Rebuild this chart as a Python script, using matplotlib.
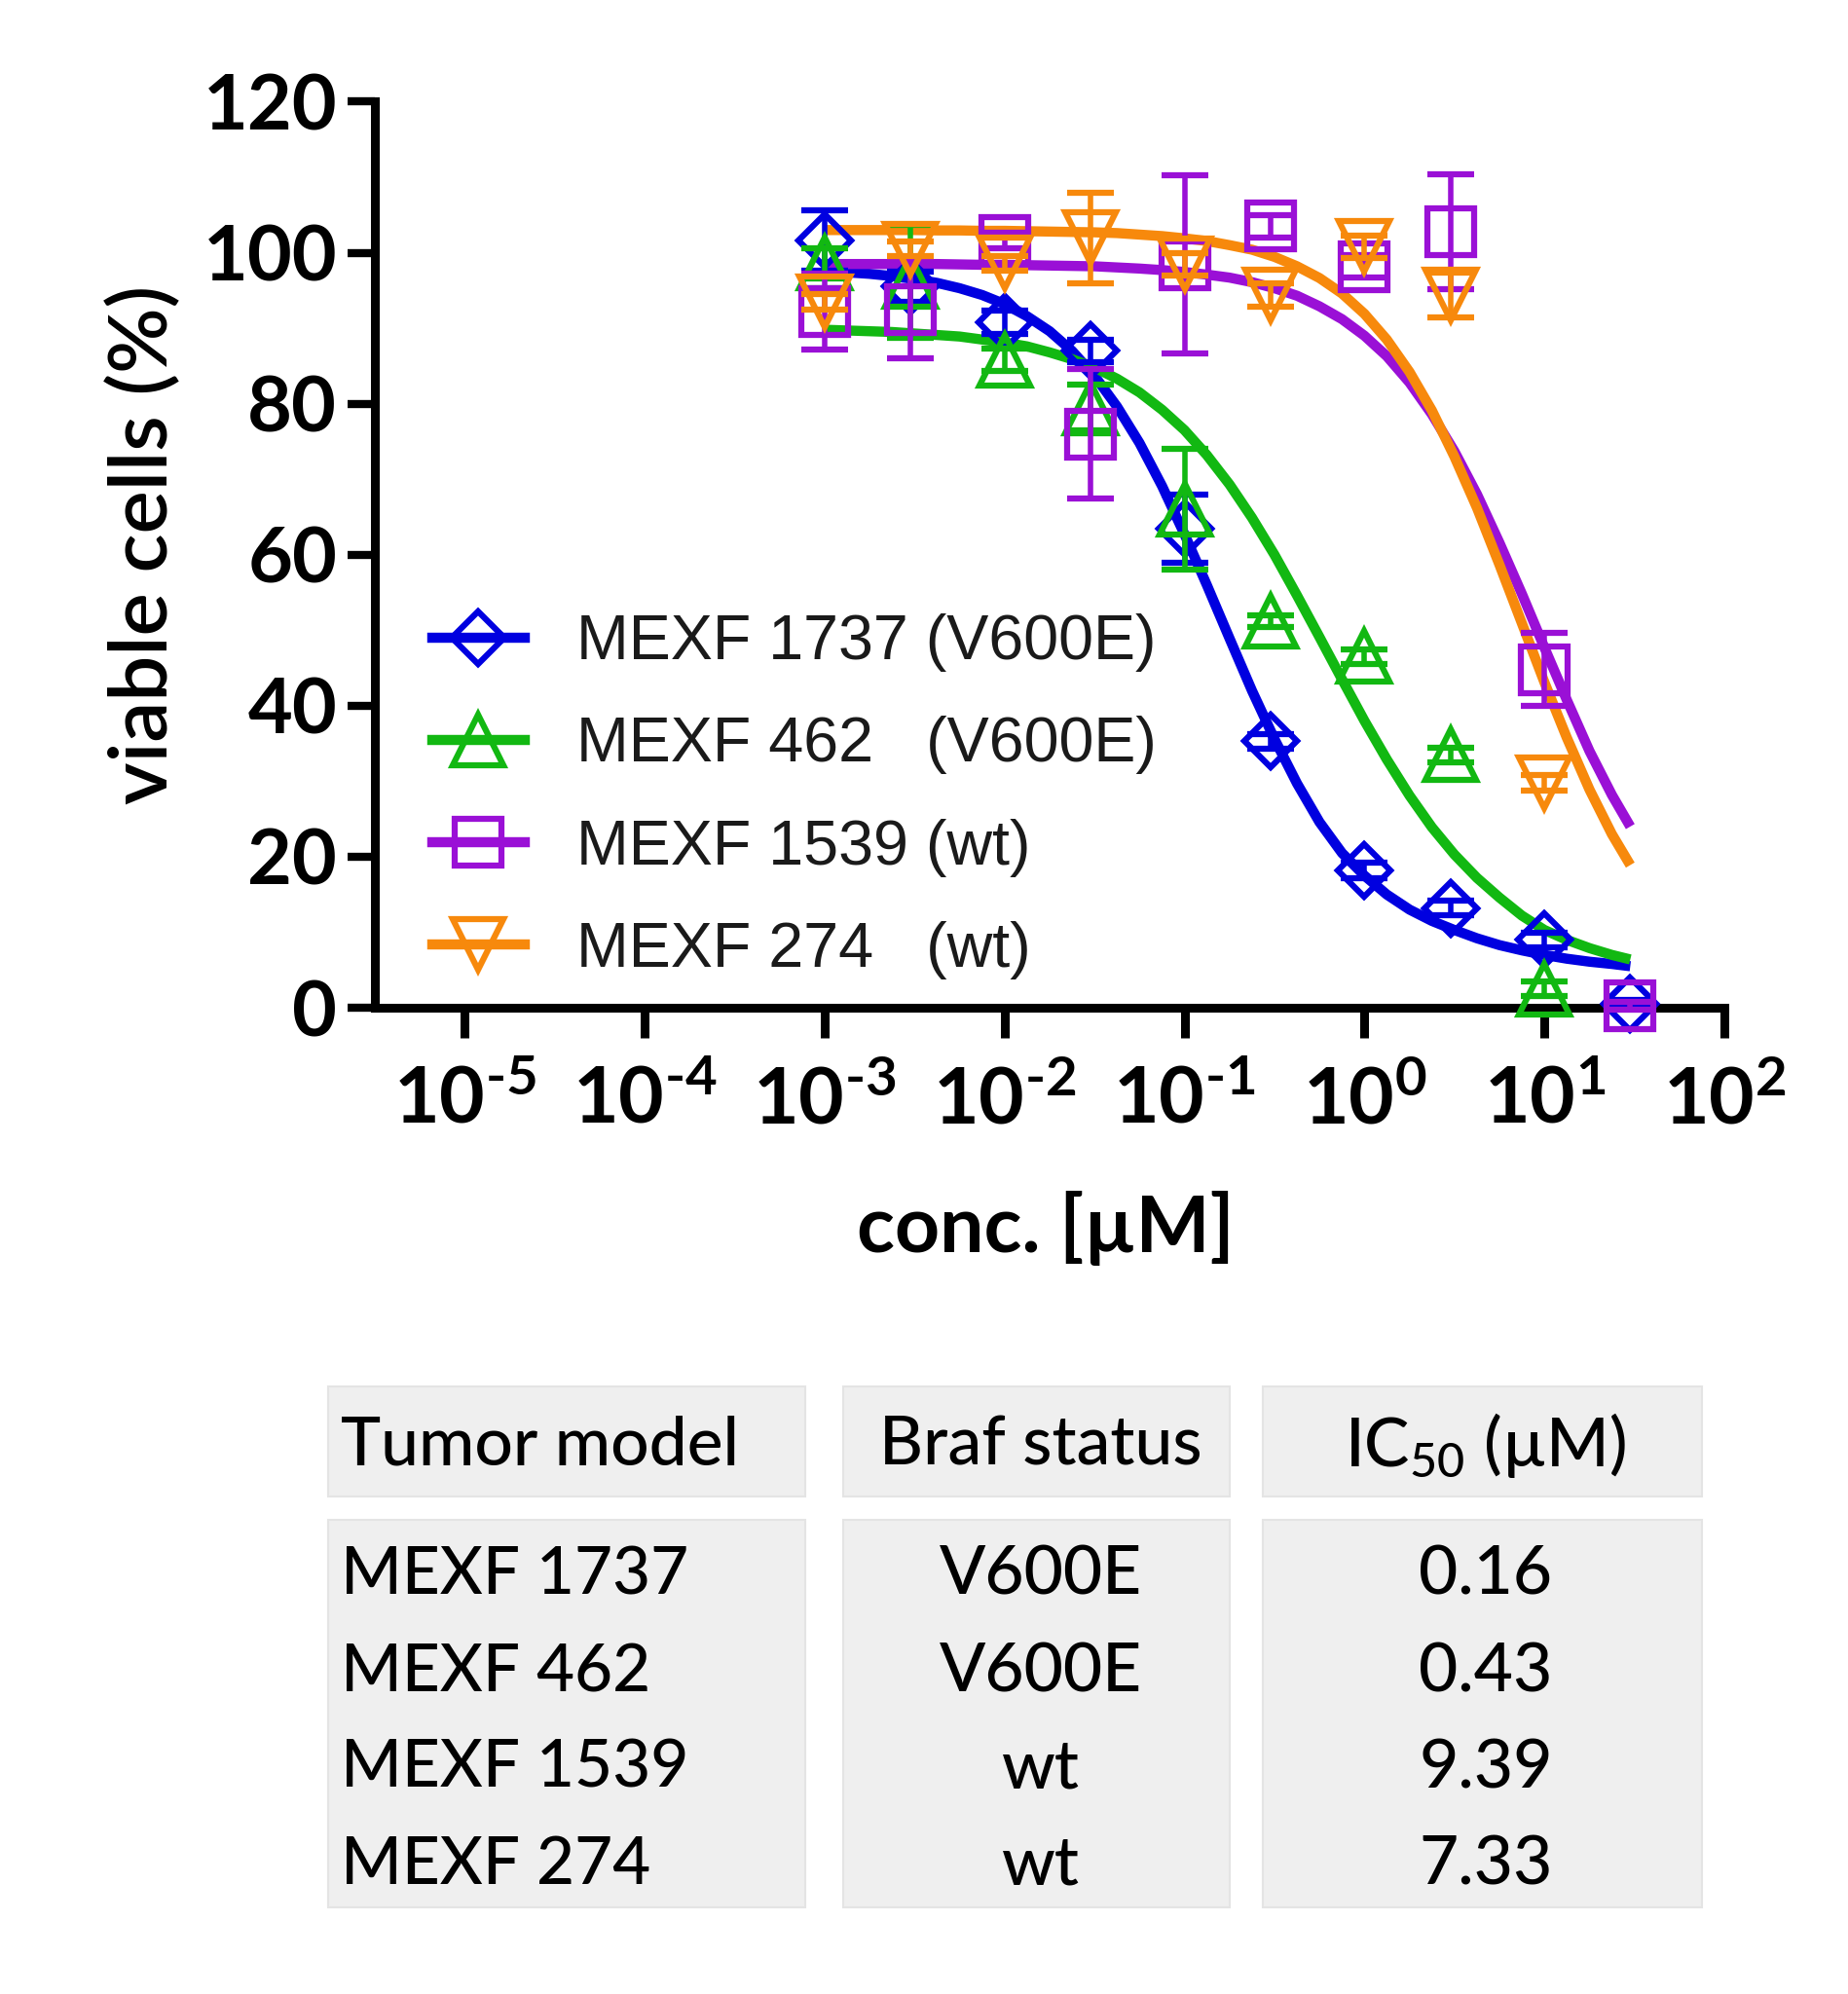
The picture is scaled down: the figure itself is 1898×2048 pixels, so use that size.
import numpy as np
import matplotlib
matplotlib.use('Agg')
import matplotlib.pyplot as plt
from matplotlib.lines import Line2D
from matplotlib.patches import Rectangle

# measured concentrations (uM)
conc = [0.001, 0.003, 0.01, 0.03, 0.1, 0.3, 1, 3, 10, 30]

# mean viability (%) and SD
mexf1737 = [101.6, 95.5, 90.8, 87.0, 63.5, 35.3, 18.2, 13.2, 9.0, 0.5]
mexf1737_sd = [4.0, 2.0, 1.5, 1.5, 4.5, 1.0, 1.0, 1.0, 1.0, 0.5]
mexf462 = [98.6, 96.2, 85.8, 79.5, 66.0, 51.2, 46.5, 33.5, 2.5, np.nan]
mexf462_sd = [2.0, 7.5, 1.5, 3.0, 8.0, 0.8, 1.0, 1.0, 1.0, np.nan]
mexf1539 = [92.2, 92.5, 101.6, 76.0, 98.4, 103.5, 98.2, 102.8, 44.8, 0.3]
mexf1539_sd = [5.0, 6.5, 1.0, 8.6, 11.8, 1.5, 1.5, 7.6, 4.8, 0.5]
mexf274 = [93.5, 100.5, 98.6, 102.0, 98.5, 94.4, 100.8, 94.4, 29.8, np.nan]
mexf274_sd = [1.0, 1.0, 1.0, 6.0, 1.5, 1.5, 1.5, 3.0, 1.0, np.nan]

# fitted curves
curve_x = [0.001, 0.00133, 0.00178, 0.00237, 0.00316, 0.00422, 0.00562, 0.0075,
           0.01, 0.0133, 0.0178, 0.0237, 0.0316, 0.0422, 0.0562, 0.075,
           0.1, 0.133, 0.178, 0.237, 0.316, 0.422, 0.562, 0.75,
           1, 1.33, 1.78, 2.37, 3.16, 4.22, 5.62, 7.5,
           10, 13.3, 17.8, 23.7, 30]
fit1737 = [97.6, 97.4, 97.2, 96.9, 96.5, 96.0, 95.3, 94.4,
           93.2, 91.6, 89.6, 87.0, 83.7, 79.6, 74.8, 69.1,
           62.7, 56.0, 48.9, 42.0, 35.6, 29.7, 24.6, 20.5,
           17.5, 15.0, 13.0, 11.5, 10.3, 9.2, 8.3, 7.6,
           7.0, 6.5, 6.1, 5.8, 5.5]
fit462 = [89.8, 89.7, 89.6, 89.5, 89.3, 89.1, 88.9, 88.5,
          88.1, 87.6, 86.8, 85.9, 84.8, 83.3, 81.5, 79.2,
          76.5, 73.2, 69.3, 64.9, 60.0, 54.6, 49.1, 43.5,
          38.0, 32.9, 28.1, 23.9, 20.3, 17.2, 14.6, 12.2,
          10.3, 9.0, 7.9, 7.0, 6.4]
fit1539 = [98.5, 98.5, 98.5, 98.5, 98.5, 98.5, 98.45, 98.4,
           98.4, 98.35, 98.3, 98.25, 98.2, 98.05, 97.9, 97.7,
           97.45, 97.1, 96.7, 96.1, 95.3, 94.3, 92.9, 91.2,
           89.0, 86.3, 82.8, 78.6, 73.7, 68.0, 61.6, 54.8,
           47.7, 40.8, 34.0, 28.2, 24.0]
fit274 = [103.0, 103.0, 103.0, 103.0, 103.0, 102.95, 102.95, 102.9,
          102.9, 102.85, 102.8, 102.75, 102.7, 102.6, 102.4, 102.2,
          101.9, 101.55, 101.0, 100.4, 99.45, 98.2, 96.65, 94.6,
          91.9, 88.5, 84.2, 79.1, 73.0, 66.2, 58.7, 50.9,
          43.1, 35.8, 28.9, 23.0, 18.9]

labels = ['MEXF 1737 (V600E)', 'MEXF 462   (V600E)', 'MEXF 1539 (wt)', 'MEXF 274   (wt)']

# table
table_header = ['Tumor model', 'Braf status', r'IC$_{\mathregular{50}}$ (µM)']
table_model = ['MEXF 1737', 'MEXF 462', 'MEXF 1539', 'MEXF 274']
table_braf = ['V600E', 'V600E', 'wt', 'wt']
table_ic50 = ['0.16', '0.43', '9.39', '7.33']

xticks = [1e-5, 1e-4, 1e-3, 1e-2, 1e-1, 1e0, 1e1, 1e2]
xtick_labels = [r'$\mathrm{10^{\text{-}5}}$', r'$\mathrm{10^{\text{-}4}}$',
                r'$\mathrm{10^{\text{-}3}}$', r'$\mathrm{10^{\text{-}2}}$',
                r'$\mathrm{10^{\text{-}1}}$', r'$\mathrm{10^{0}}$',
                r'$\mathrm{10^{1}}$', r'$\mathrm{10^{2}}$']
yticks = [0, 20, 40, 60, 80, 100, 120]

plt.rcParams['font.family'] = ['Lato', 'DejaVu Sans']
plt.rcParams['mathtext.fontset'] = 'custom'
plt.rcParams['mathtext.rm'] = 'Lato:bold'
plt.rcParams['mathtext.bf'] = 'Lato:bold'

fig = plt.figure(figsize=(18.98, 20.48), dpi=100)

# background layer for the table (pixel coordinates)
bg = fig.add_axes([0, 0, 1, 1])
bg.set_xlim(0, 1898)
bg.set_ylim(2048, 0)
bg.axis('off')

ax = fig.add_axes([0.2028, 0.4946, 0.7303, 0.4544])

series = [
    (mexf1737, mexf1737_sd, fit1737, '#0000e0', 'D', 27),
    (mexf462, mexf462_sd, fit462, '#12b812', '^', 38),
    (mexf1539, mexf1539_sd, fit1539, '#9a10d6', 's', 34),
    (mexf274, mexf274_sd, fit274, '#f7890c', 'v', 38),
]

handles = []
for i, (yv, sd, fit, col, mk, ms) in enumerate(series):
    ax.plot(curve_x, fit, color=col, lw=7.5, solid_capstyle='butt',
            solid_joinstyle='round', zorder=3 + i * 0.1)
    eb = ax.errorbar(conc, yv, yerr=sd, fmt=mk, color=col, mfc='none', mec=col,
                     ms=ms, mew=4.5, elinewidth=4, capsize=17, capthick=4.5,
                     zorder=4 + i * 0.1, clip_on=False)
    for art in eb.lines[1] + eb.lines[2]:
        art.set_clip_on(False)
    handles.append(Line2D([], [], color=col, lw=7.5, marker=mk, ms=ms, mfc='none',
                          mec=col, mew=4.5))

ax.set_xscale('log')
ax.set_xlim(10 ** -5.5, 100)
ax.set_ylim(0, 120)
ax.set_xticks(xticks)
ax.set_xticklabels(xtick_labels)
ax.xaxis.set_minor_locator(matplotlib.ticker.NullLocator())
ax.set_yticks(yticks)
ax.set_yticklabels([str(v) for v in yticks], fontweight='bold')

for side in ['top', 'right']:
    ax.spines[side].set_visible(False)
for side in ['left', 'bottom']:
    ax.spines[side].set_linewidth(6.5)
    ax.spines[side].set_capstyle('projecting')

ax.tick_params(axis='x', direction='out', length=22, width=6.5, pad=20,
               labelsize=58, colors='black')
ax.tick_params(axis='y', direction='out', length=20, width=6, pad=8,
               labelsize=57, colors='black')

leg = ax.legend(handles, labels, loc='center left',
                bbox_to_anchor=(444 / 1898, 1 - 818 / 2048),
                bbox_transform=fig.transFigure, frameon=False,
                prop={'family': ['Liberation Sans'], 'size': 46.5},
                handlelength=1.47, handletextpad=0.82, labelspacing=0.7,
                borderpad=0, borderaxespad=0)
for t in leg.get_texts():
    t.set_color('#1a1a1a')

fig.text(1074 / 1898, 1 - 1261 / 2048, 'conc. [µM]', ha='center', va='center',
         fontsize=58, fontweight='bold')
fig.text(148 / 1898, 1 - 559 / 2048, 'viable cells (%)', ha='center', va='center',
         rotation=90, fontsize=60, fontweight='semibold')

# table cells
col_spans = [(337, 827), (866, 1263), (1297, 1748)]
for x0, x1 in col_spans:
    bg.add_patch(Rectangle((x0, 1424), x1 - x0, 113, facecolor='#efefef',
                           edgecolor='#e4e4e4', lw=1.5))
    bg.add_patch(Rectangle((x0, 1561), x1 - x0, 398, facecolor='#efefef',
                           edgecolor='#e4e4e4', lw=1.5))

tab_font = 50
header_y = 1485
row_y = [1618, 1718, 1817, 1916]
bg.text(350, header_y, table_header[0], ha='left', va='center', fontsize=tab_font,
        fontweight='medium')
bg.text(1069, header_y, table_header[1], ha='center', va='center', fontsize=tab_font,
        fontweight='medium')
bg.text(1526, header_y, table_header[2], ha='center', va='center', fontsize=tab_font,
        fontweight='medium')
for i, y in enumerate(row_y):
    bg.text(350, y, table_model[i], ha='left', va='center', fontsize=48.5,
            fontweight='medium')
    bg.text(1069, y, table_braf[i], ha='center', va='center', fontsize=tab_font,
            fontweight='medium')
    bg.text(1526, y, table_ic50[i], ha='center', va='center', fontsize=tab_font,
            fontweight='medium')

fig.savefig('out.png', dpi=100, facecolor='white')
